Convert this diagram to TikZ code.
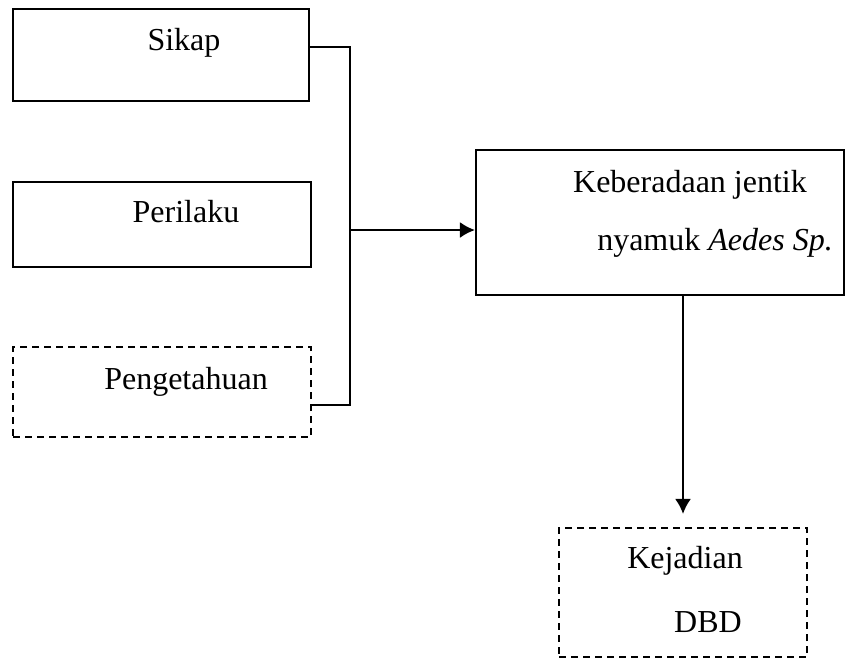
\documentclass[tikz,border=0pt]{standalone}
\usepackage{fontspec}
\setmainfont{Liberation Serif}
\usetikzlibrary{arrows.meta}

\begin{document}
\begin{tikzpicture}[x=0.5pt,y=-0.5pt,
    kotak/.style={draw,line width=1.1pt,inner sep=0pt},
    kotakputus/.style={kotak,dash pattern=on 3.5pt off 2.5pt},
    teks/.style={font=\fontsize{16}{19}\selectfont,inner sep=0pt,anchor=base},
    garis/.style={line width=1pt},
    panah/.style={garis,-{Latex[length=7.5pt,width=8pt]}}]
    \useasboundingbox (0,0) rectangle (846,660);

    %Kotak
    \node[kotak,minimum width=148pt,minimum height=46pt] (sikap) at (161,55) {};
    \node[kotak,minimum width=149pt,minimum height=42.5pt] (perilaku) at (162,224.5) {};
    \node[kotakputus,minimum width=149pt,minimum height=45pt] (pengetahuan) at (162,392) {};
    \node[kotak,minimum width=184pt,minimum height=72.5pt] (keberadaan) at (660,222.5) {};
    \node[kotakputus,minimum width=124pt,minimum height=64.5pt] (kejadian) at (683,592.5) {};

    %Teks
    \node[teks] (t-sikap) at (184,50) {Sikap};
    \node[teks] (t-perilaku) at (186,222) {Perilaku};
    \node[teks] (t-pengetahuan) at (186,389) {Pengetahuan};
    \node[teks] (t-jentik) at (690,192) {Keberadaan jentik};
    \node[teks] (t-nyamuk) at (715,250) {nyamuk \textit{Aedes Sp.}};
    \node[teks] (t-kejadian) at (685,568) {Kejadian};
    \node[teks] (t-dbd) at (708,632) {DBD};

    %Garis
    \coordinate (atas) at (350,47);
    \coordinate (bawah) at (350,405);
    \coordinate (tengah) at (350,230);
    \draw[garis] (sikap.east |- atas) -- (atas) -- (bawah) -- (pengetahuan.east |- bawah);
    \draw[panah] (tengah) -- (tengah -| keberadaan.west);
    \draw[panah] (keberadaan.south -| kejadian.north) -- ([yshift=6.5pt]kejadian.north);
\end{tikzpicture}
\end{document}
